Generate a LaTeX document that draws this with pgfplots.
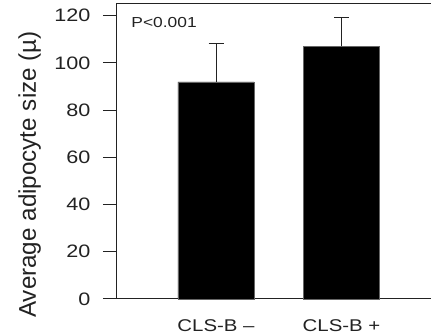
\documentclass[border=0pt]{standalone}
\usepackage{pgfplots}
\pgfplotsset{compat=1.18}
\usepackage{fontspec}
\setmainfont{Liberation Sans}[FakeStretch=1.2]
\newfontfamily\ylfont{Liberation Sans}
\definecolor{ax}{HTML}{222222}
\begin{document}
\begin{tikzpicture}
\useasboundingbox (-117pt,-37pt) rectangle (314pt,299pt);
\begin{axis}[
  at={(0,0)}, anchor=south west,
  scale only axis, width=330pt, height=295pt,
  xmin=0.211, xmax=2.8405, ymin=0, ymax=125,
  axis line style={ax, line width=1pt},
  ytick={0,20,...,120}, xtick={1,2},
  xticklabels={CLS-B \textendash, CLS-B +},
  ytick pos=left, xtick pos=bottom,
  major x tick style={draw=none},
  tick align=outside, major tick length=14pt,
  y tick style={ax, line width=1pt},
  /pgf/number format/assume math mode=true,
  tick label style={font=\fontsize{18}{20}\selectfont, text=ax},
  yticklabel style={xshift=-9pt},
  xticklabel style={yshift=-3pt, font=\fontsize{17}{20}\selectfont},
  ylabel={Average adipocyte size (µ)},
  ylabel style={font=\ylfont\fontsize{24.2}{26}\selectfont, text=ax, at={(axis description cs:-0.2455,0.422)}, anchor=base},
  clip=false,
]
\addplot[ybar, bar width=0.606, fill=black, draw=gray!80!black, line width=0.6pt,
  error bars/.cd, y dir=plus, y explicit,
  error bar style={line width=1pt, color=ax},
  error mark options={rotate=90, mark size=7.5pt, line width=1pt, color=ax}]
  coordinates {(1,92) +- (0,16.3) (2,107.2) +- (0,11.9)};
\node[anchor=base west, font=\fontsize{14.5}{16}\selectfont, text=ax] at (axis cs:0.298,114.9) {P<0.001};
\end{axis}
\end{tikzpicture}
\end{document}
